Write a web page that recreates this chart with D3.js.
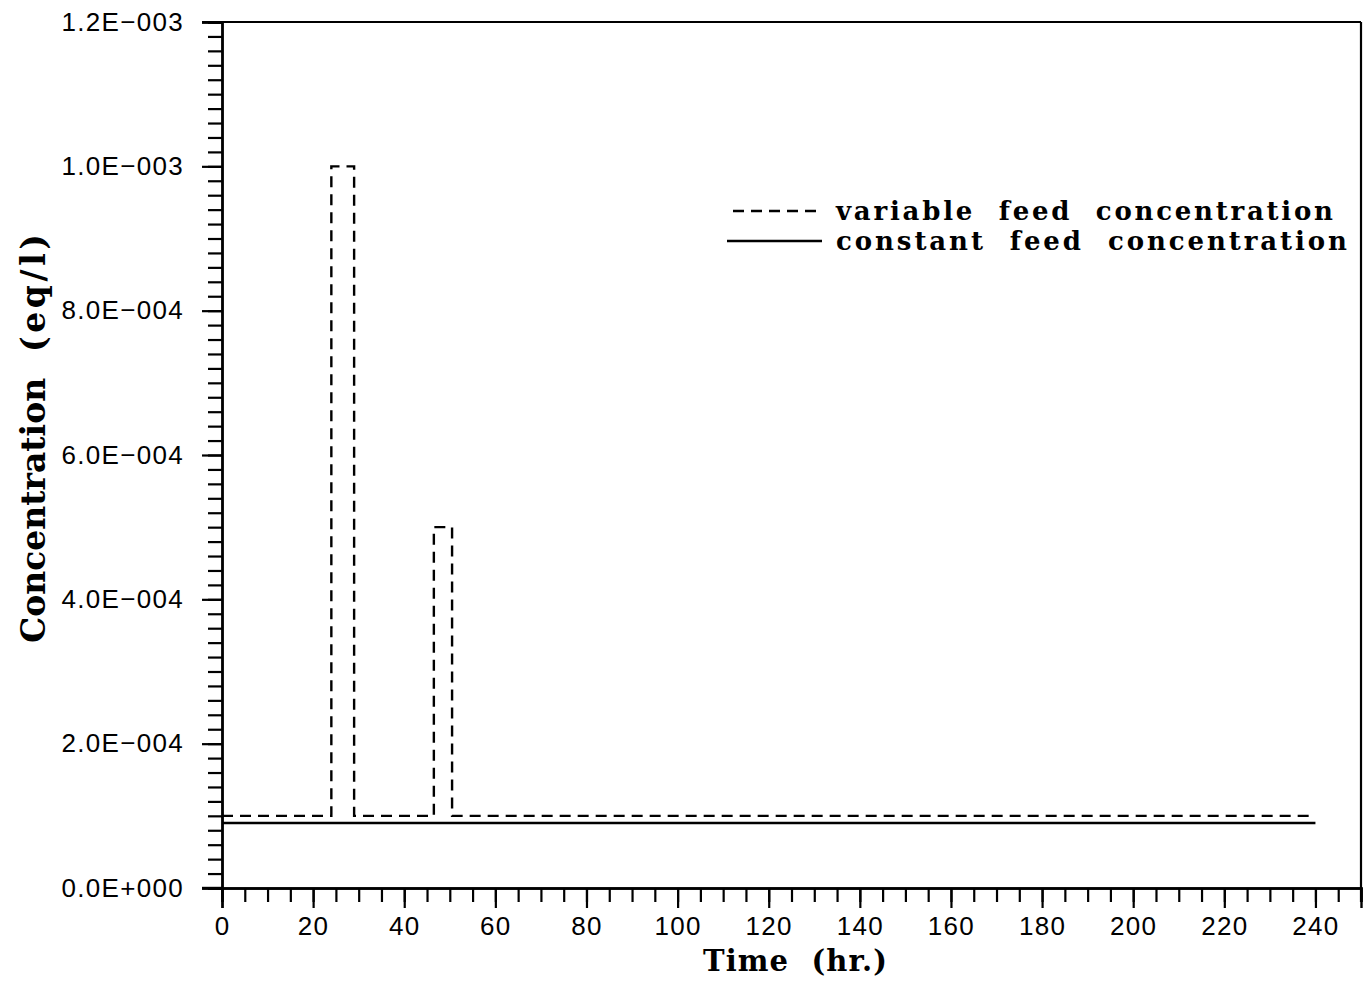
<!DOCTYPE html>
<html>
<head>
<meta charset="utf-8">
<script src="https://cdn.jsdelivr.net/npm/d3@7/dist/d3.min.js"></script>
<style>
  html, body { margin: 0; padding: 0; background: #fff; }
  svg { display: block; }
  .tick-label { font-family: "Liberation Sans", Arial, sans-serif; font-size: 26px; letter-spacing: 1.3px; fill: #000; }
  .title { font-family: "DejaVu Serif", serif; font-weight: bold; fill: #000; white-space: pre; }
</style>
</head>
<body>
<svg id="chart" width="1363" height="988"></svg>
<script>
// Feed concentration pulses over time (hours vs eq/l)
const variableTime = [0, 24, 24, 29, 29, 46.5, 46.5, 50.5, 50.5, 240];
const variableConc = [1.0e-4, 1.0e-4, 1.0e-3, 1.0e-3, 1.0e-4, 1.0e-4, 5.0e-4, 5.0e-4, 1.0e-4, 1.0e-4];
const constantTime = [0, 240];
const constantConc = [9.0e-5, 9.0e-5];

const xMajorTicks = [0, 20, 40, 60, 80, 100, 120, 140, 160, 180, 200, 220, 240];
const yMajorTicks = [0, 2e-4, 4e-4, 6e-4, 8e-4, 1.0e-3, 1.2e-3];
const legendLabels = ["variable  feed  concentration", "constant  feed  concentration"];

const svg = d3.select("#chart");
const plotLeft = 222, plotRight = 1361, plotTop = 22, plotBottom = 888;

const x = d3.scaleLinear().domain([0, 250]).range([plotLeft, plotRight]);
const y = d3.scaleLinear().domain([0, 1.2e-3]).range([plotBottom, plotTop]);

// Exponent labels like 1.2E-003
function sciLabel(v) {
  const s = d3.format(".1e")(v);
  const [m, e] = s.split("e");
  const n = parseInt(e, 10);
  const sign = n < 0 ? "\u2212" : "+";
  return m + "E" + sign + String(Math.abs(n)).padStart(3, "0");
}

const stroke = "#000";

// Frame: top and right edges
svg.append("line").attr("x1", plotLeft - 20).attr("x2", plotRight).attr("y1", plotTop).attr("y2", plotTop)
  .attr("stroke", stroke).attr("stroke-width", 2.2);
svg.append("line").attr("x1", plotRight).attr("x2", plotRight).attr("y1", plotTop).attr("y2", plotBottom + 14)
  .attr("stroke", stroke).attr("stroke-width", 2.2);

// Y axis: major and minor ticks
const yMinor = d3.range(0, 61).map(i => i * 2e-5);
const yAxisMinor = d3.axisLeft(y).tickValues(yMinor).tickSize(14).tickFormat("");
const yAxisMajor = d3.axisLeft(y).tickValues(yMajorTicks).tickSize(20).tickFormat(sciLabel).tickPadding(18);

const gyMin = svg.append("g").attr("transform", `translate(${plotLeft},0)`).call(yAxisMinor);
const gy = svg.append("g").attr("transform", `translate(${plotLeft},0)`).call(yAxisMajor);
[gyMin, gy].forEach(g => {
  g.select(".domain").attr("stroke", stroke).attr("stroke-width", 2.4);
  g.selectAll(".tick line").attr("stroke", stroke).attr("stroke-width", 2.2);
});
gy.selectAll(".tick text").attr("class", "tick-label").attr("font-size", null).attr("font-family", null);

// X axis: major and minor ticks below the axis line
const xMinor = d3.range(0, 51).map(i => i * 5);
const xAxisMinor = d3.axisBottom(x).tickValues(xMinor).tickSize(14).tickFormat("");
const xAxisMajor = d3.axisBottom(x).tickValues(xMajorTicks).tickSize(20).tickFormat(d3.format("d")).tickPadding(9);

const gxMin = svg.append("g").attr("transform", `translate(0,${plotBottom})`).call(xAxisMinor);
const gx = svg.append("g").attr("transform", `translate(0,${plotBottom})`).call(xAxisMajor);
[gxMin, gx].forEach(g => {
  g.select(".domain").attr("stroke", stroke).attr("stroke-width", 2.4);
  g.selectAll(".tick line").attr("stroke", stroke).attr("stroke-width", 2.2);
});
gx.selectAll(".tick text").attr("class", "tick-label").attr("font-size", null).attr("font-family", null);
// extend x-axis line left to meet the zero tick
svg.append("line").attr("x1", plotLeft - 20).attr("x2", plotLeft).attr("y1", plotBottom).attr("y2", plotBottom)
  .attr("stroke", stroke).attr("stroke-width", 2.4);

// Series
const line = d3.line().x(d => x(d[0])).y(d => y(d[1]));
const variableData = variableTime.map((t, i) => [t, variableConc[i]]);
const constantData = constantTime.map((t, i) => [t, constantConc[i]]);

svg.append("path").datum(variableData).attr("d", line)
  .attr("fill", "none").attr("stroke", stroke).attr("stroke-width", 2.4)
  .attr("stroke-dasharray", "11,7");
svg.append("path").datum(constantData).attr("d", line)
  .attr("fill", "none").attr("stroke", stroke).attr("stroke-width", 2.4);

// Legend
const legend = svg.append("g");
legend.append("line").attr("x1", 733).attr("x2", 822).attr("y1", 211).attr("y2", 211)
  .attr("stroke", stroke).attr("stroke-width", 2.4).attr("stroke-dasharray", "11,7");
legend.append("line").attr("x1", 727).attr("x2", 822).attr("y1", 241).attr("y2", 241)
  .attr("stroke", stroke).attr("stroke-width", 2.4);
legend.append("text").attr("class", "title").attr("font-size", 26).attr("x", 836).attr("y", 220)
  .attr("textLength", 497).attr("lengthAdjust", "spacing").text(legendLabels[0]);
legend.append("text").attr("class", "title").attr("font-size", 26).attr("x", 836).attr("y", 250)
  .attr("textLength", 511).attr("lengthAdjust", "spacing").text(legendLabels[1]);

// Axis titles
svg.append("text").attr("class", "title").attr("font-size", 29).attr("x", 703).attr("y", 971)
  .attr("textLength", 184).attr("lengthAdjust", "spacing").text("Time  (hr.)");
const yTitle = svg.append("g").attr("transform", "translate(45,643) rotate(-90)");
yTitle.append("text").attr("class", "title").attr("font-size", 33).attr("x", 0).attr("y", 0)
  .text("Concentration");
yTitle.append("text").attr("class", "title").attr("font-size", 33).attr("x", 291).attr("y", 0)
  .attr("textLength", 118).attr("lengthAdjust", "spacing").text("(eq/l)");
</script>
</body>
</html>
